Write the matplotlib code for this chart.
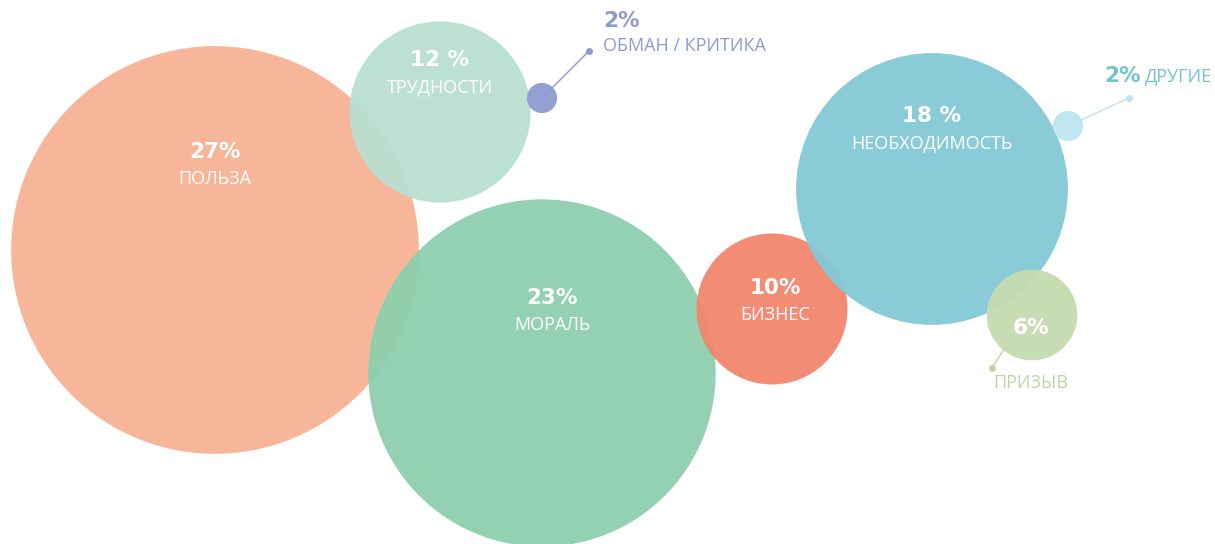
import matplotlib.pyplot as plt
from matplotlib.patches import Circle

# shares per theme, %
labels = ['ПОЛЬЗА', 'ТРУДНОСТИ', 'ОБМАН / КРИТИКА', 'МОРАЛЬ', 'БИЗНЕС',
          'НЕОБХОДИМОСТЬ', 'ДРУГИЕ', 'ПРИЗЫВ']
values = [27, 12, 2, 23, 10, 18, 2, 6]
pct_text = ['27%', '12 %', '2%', '23%', '10%', '18 %', '2%', '6%']

# layout (pixel space) and colours
centers = [(215, 250), (440, 112), (542, 98), (542, 373), (772, 309),
           (932, 189), (1068, 126), (1032, 315)]
colors = ['#F7B194', '#B9E0D0', '#8E9BD2', '#8DCFAE', '#F2866D',
          '#84C9D6', '#BDE5F0', '#C5DBB0']
scale = 7.55  # radius per percent

fig = plt.figure(figsize=(12.15, 5.44), dpi=100)
ax = fig.add_axes([0, 0, 1, 1])
ax.set_xlim(0, 1215)
ax.set_ylim(544, 0)
ax.set_aspect('equal')
ax.axis('off')

for (cx, cy), v, c in zip(centers, values, colors):
    ax.add_patch(Circle((cx, cy), v * scale, color=c, alpha=0.95, lw=0))

bold = dict(family='DejaVu Sans', fontweight='heavy', fontsize=15.5)
thin = dict(family='Open Sans', fontsize=13)

# labels inside big bubbles
inside = {0: (215, 152), 1: (440, 60), 3: (552, 298), 4: (775, 288), 5: (932, 116)}
for i, (tx, ty) in inside.items():
    ax.text(tx, ty, pct_text[i], color='white', ha='center', va='center', **bold)
    ax.text(tx, ty + 27, labels[i], color='white', ha='center', va='center', **thin)
ax.text(1031, 328, pct_text[7], color='white', ha='center', va='center', **bold)

# callouts for the small bubbles
def leader(p0, p1, color):
    ax.plot([p0[0], p1[0]], [p0[1], p1[1]], color=color, lw=1)
    ax.plot(p1[0], p1[1], 'o', color=color, ms=4)

leader(centers[2], (589, 51), '#8E9BD2')
ax.text(603, 21, pct_text[2], color='#8E9BD2', ha='left', va='center', **bold)
ax.text(603, 46, labels[2], color='#8E9BD2', ha='left', va='center', **thin)

leader(centers[6], (1129, 98), '#BDE5F0')
ax.text(1104, 76, pct_text[6], color='#72C2CF', ha='left', va='center', **bold)
ax.text(1145, 76, labels[6], color='#72C2CF', ha='left', va='center', **thin)

leader((1004, 349), (992, 368), '#BDD6A8')
ax.text(1031, 383, labels[7], color='#BDD6A8', ha='center', va='center', **thin)

fig.savefig('out.png', dpi=100)
